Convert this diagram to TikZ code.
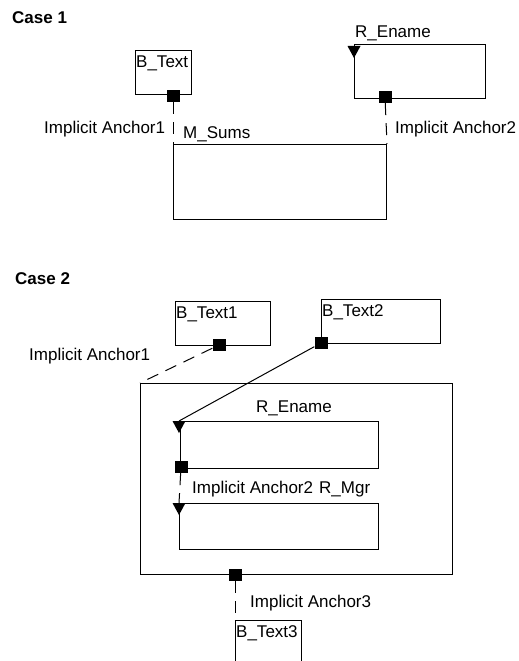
\documentclass[tikz,border=0pt]{standalone}
\usepackage{fontspec}
\setmainfont{Liberation Sans}
\usetikzlibrary{shapes.geometric}
\usetikzlibrary{positioning}

\newcommand{\downtri}[1]{\fill (#1) ++(-6.5,0) -- ++(13,0) -- ++(-6.5,12) -- cycle;}

\begin{document}
\begin{tikzpicture}[x=1pt, y=-1pt,
    box/.style={draw, rectangle, line width=1pt, inner sep=0pt, anchor=north west},
    lbl/.style={inner sep=0pt, anchor=base west, font=\fontsize{17}{20}\selectfont},
    casefont/.style={lbl, font=\fontsize{17}{20}\selectfont\bfseries},
    anch/.style={fill, rectangle, minimum width=13pt, minimum height=12pt, inner sep=0pt},
    link/.style={line width=1pt, dash pattern=on 12pt off 8pt}]
    \useasboundingbox (0,0) rectangle (519,661);
    \clip (0,0) rectangle (519,661);

    % Case 1
    \node[casefont] (case1) at (12,24) {Case 1};
    \node[box, minimum width=56pt, minimum height=44pt] (btext) at (135,50) {};
    \node[lbl] (btextlbl) at (136,67) {B\_Text};
    \node[anch] (sq1) at (173,96) {};
    \node[box, minimum width=131pt, minimum height=54pt] (rename) at (354,44) {};
    \node[lbl] (renamelbl) at (355,38) {R\_Ename};
    \coordinate (tri0) at (354,46);
    \downtri{tri0}
    \node[anch] (sq2) at (385,97) {};
    \node[box, minimum width=213pt, minimum height=75pt] (msums) at (173,144) {};
    \node[lbl] (msumslbl) at (183,138) {M\_Sums};
    \node[lbl] (anchor1lbl) at (44,133) {Implicit Anchor1};
    \node[lbl] (anchor2lbl) at (395,133) {Implicit Anchor2};

    \draw[link] (sq1) -- (msums.north west);
    \draw[link] (sq2) -- (msums.north east);

    % Case 2
    \node[casefont] (case2) at (15,284) {Case 2};
    \node[box, minimum width=95pt, minimum height=44pt] (btext1) at (175,301) {};
    \node[lbl] (btext1lbl) at (176,318) {B\_Text1};
    \node[anch] (sq3) at (219,345) {};
    \node[box, minimum width=119pt, minimum height=44pt] (btext2) at (321,299) {};
    \node[lbl] (btext2lbl) at (322,316) {B\_Text2};
    \node[anch] (sq4) at (321,343) {};
    \node[lbl] (anchor1lblb) at (29,360) {Implicit Anchor1};
    \node[box, minimum width=312pt, minimum height=191pt] (outer) at (140,383) {};
    \node[lbl] (renamelblb) at (256,412) {R\_Ename};
    \node[box, minimum width=198pt, minimum height=47pt] (ename) at (180,421) {};
    \coordinate (tri1) at (179,421);
    \downtri{tri1}
    \node[anch] (sq5) at (181,467) {};
    \node[lbl] (anchor2lblb) at (192,493) {Implicit Anchor2};
    \node[lbl] (mgrlbl) at (319,493) {R\_Mgr};
    \node[box, minimum width=199pt, minimum height=46pt] (mgr) at (179,503) {};
    \coordinate (tri2) at (179,503);
    \downtri{tri2}
    \node[anch] (sq6) at (235,575) {};
    \node[lbl] (anchor3lbl) at (250,607) {Implicit Anchor3};
    \node[box, minimum width=66pt, minimum height=60pt] (btext3) at (235,620) {};
    \node[lbl] (btext3lbl) at (236,637) {B\_Text3};

    \draw[link] (sq3) -- (outer.north west);
    \draw[line width=1pt] (sq4) -- (tri1);
    \draw[link] (sq5) -- (tri2);
    \draw[link] (sq6) -- (btext3.north west);
\end{tikzpicture}
\end{document}
